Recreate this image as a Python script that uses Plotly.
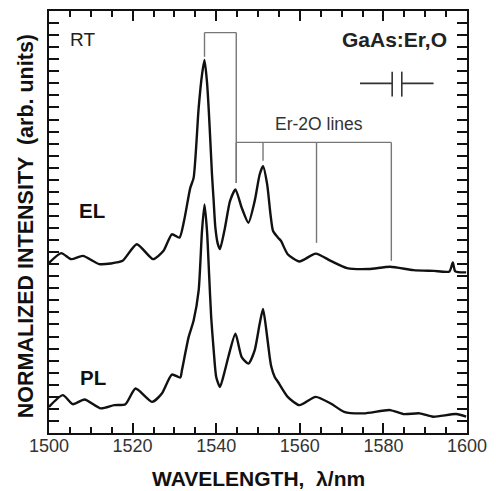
import plotly.graph_objects as go

# ---- data (wavelength in nm, normalized intensity in arb. units) ----
el_wl = [1500, 1502.9, 1505.3, 1508.1, 1512, 1514.8, 1517.6, 1521, 1524.9, 1527.4,
         1529.4, 1531.2, 1532.3, 1533.8, 1534.6, 1535.8, 1536.6, 1537.2, 1537.8, 1538.2,
         1538.6, 1539.0, 1539.4, 1539.8, 1540.4, 1540.9, 1542.1, 1543.3, 1544.6, 1546.1,
         1547.7, 1549.2, 1550.4, 1551.2, 1552.2, 1553.0, 1553.6, 1554.8, 1555.5, 1557.1,
         1559.9, 1563.8, 1567.4, 1571.3, 1576.5, 1581.6, 1587.2, 1592.0, 1595.8, 1596.6,
         1597.2, 1599.8]
el_int = [14.1, 14.92, 14.42, 14.69, 14.01, 14.06, 14.28, 15.66, 14.42, 15.11,
          16.48, 16.2, 17.58, 20.33, 21.16, 26.94, 29.7, 30.93, 29.1, 26.9,
          24.19, 21.4, 19.2, 17.03, 15.66, 15.25, 17.03, 19.23, 20.2, 18.68,
          17.44, 19.23, 21.44, 22.12, 20.6, 18.1, 16.76, 16.2, 15.93, 14.83,
          14.22, 14.88, 14.28, 13.68, 13.6, 13.79, 13.51, 13.45, 13.4, 14.14,
          13.4, 13.32]

pl_wl = [1500, 1503.3, 1505.7, 1508.5, 1512.4, 1515.6, 1518.3, 1520.7, 1524.7, 1527,
         1529.4, 1531.4, 1531.8, 1533.4, 1534.6, 1535.8, 1536.6, 1537.2, 1537.8, 1538.3,
         1538.8, 1539.4, 1540.0, 1540.9, 1542.1, 1542.9, 1544.6, 1546.1, 1547.7, 1549.2,
         1550.4, 1551.2, 1552.0, 1552.8, 1553.2, 1554.0, 1554.8, 1557.1, 1559.9, 1563.8,
         1567.4, 1570.6, 1575.3, 1581.6, 1584.8, 1588.7, 1591.9, 1597.4, 1599.8]
pl_int = [2.17, 3.14, 2.39, 2.78, 2.04, 2.31, 2.39, 3.69, 2.58, 3.28,
          4.85, 4.6, 5.2, 7.95, 9.33, 11.8, 16.76, 18.96, 16.76, 13.18,
          9.6, 6.85, 4.65, 3.82, 5.2, 6.3, 8.23, 6.3, 5.75, 6.85,
          9.06, 10.29, 8.5, 6.3, 5.47, 4.65, 4.23, 3.0, 2.31, 3.0,
          2.45, 1.76, 1.63, 1.9, 1.57, 1.63, 1.35, 1.57, 1.35]

x_tick_vals = [1500, 1520, 1540, 1560, 1580, 1600]
x_tick_text = ["1500", "1520", "1540", "1560", "1580", "1600"]

# Er-related line markers (wavelength, lower end of each drop line)
top_bracket_wl = [1537.2, 1544.8]
top_bracket_y = 33.21
top_bracket_ends = [31.2, 20.74]
er2o_wl = [1544.8, 1551.2, 1564.0, 1581.9]
er2o_y = 24.1
er2o_ends = [20.74, 22.59, 15.77, 14.28]

# resolution symbol
cap_left = [1574.4, 1582.1]
cap_right = [1584.4, 1592.0]
cap_y = 29.0
cap_plate = [27.9, 29.97]

FONT = "Liberation Sans, Arial, sans-serif"
GRAY = "#777777"

fig = go.Figure()
fig.add_trace(go.Scatter(x=el_wl, y=el_int, mode="lines",
                         line=dict(color="#111111", width=2.4, shape="spline", smoothing=0.6),
                         showlegend=False, hoverinfo="skip"))
fig.add_trace(go.Scatter(x=pl_wl, y=pl_int, mode="lines",
                         line=dict(color="#111111", width=2.4, shape="spline", smoothing=0.6),
                         showlegend=False, hoverinfo="skip"))
# invisible trace to carry the top (mirror) axis
fig.add_trace(go.Scatter(x=[pl_wl[0]], y=[pl_int[0]], xaxis="x2", mode="markers",
                         marker=dict(opacity=0), showlegend=False, hoverinfo="skip"))

shapes = []
def seg(x0, y0, x1, y1, color=GRAY, width=1.4):
    shapes.append(dict(type="line", xref="x", yref="y", x0=x0, y0=y0, x1=x1, y1=y1,
                       line=dict(color=color, width=width)))

# top bracket
seg(top_bracket_wl[0], top_bracket_y, top_bracket_wl[1], top_bracket_y)
for w, e in zip(top_bracket_wl, top_bracket_ends):
    seg(w, top_bracket_y, w, e)
# Er-2O bracket
seg(er2o_wl[0], er2o_y, er2o_wl[-1], er2o_y)
for w, e in zip(er2o_wl, er2o_ends):
    seg(w, er2o_y, w, e)
# capacitor-like resolution symbol
seg(cap_left[0], cap_y, cap_left[1], cap_y, "#333333", 1.6)
seg(cap_right[0], cap_y, cap_right[1], cap_y, "#333333", 1.6)
seg(cap_left[1], cap_plate[0], cap_left[1], cap_plate[1], "#333333", 1.6)
seg(cap_right[0], cap_plate[0], cap_right[0], cap_plate[1], "#333333", 1.6)

annotations = [
    dict(x=1508.1, y=32.6, text="RT", font=dict(size=19, family=FONT, color="#222")),
    dict(x=1582.7, y=32.6, text="<b>GaAs:Er,O</b>", font=dict(size=21, family=FONT, color="#222")),
    dict(x=1564.6, y=25.6, text="Er-2O lines", font=dict(size=17.5, family=FONT, color="#333")),
    dict(x=1510.4, y=18.47, text="<b>EL</b>", font=dict(size=20.5, family=FONT, color="#111")),
    dict(x=1510.6, y=4.6, text="<b>PL</b>", font=dict(size=20.5, family=FONT, color="#111")),
    dict(xref="paper", yref="paper", x=0.5, y=0, yshift=-45, text="<b>WAVELENGTH,  λ/nm</b>",
         font=dict(size=21, family=FONT, color="#111")),
    dict(xref="paper", yref="paper", x=0, y=0.49, xshift=-23, textangle=-90,
         text="<b>NORMALIZED INTENSITY  (arb. units)</b>",
         font=dict(size=21.5, family=FONT, color="#111")),
]
for a in annotations:
    a.setdefault("xref", "x")
    a.setdefault("yref", "y")
    a["showarrow"] = False
    a["xanchor"] = "center"
    a["yanchor"] = "middle"

tick_common = dict(ticks="inside", ticklen=10, tickwidth=1.5, tickcolor="#111",
                   showgrid=False, zeroline=False)

fig.update_layout(
    width=496, height=491,
    margin=dict(l=49, r=25, t=9, b=58),
    plot_bgcolor="white", paper_bgcolor="white",
    shapes=shapes, annotations=annotations,
    xaxis=dict(range=[1500, 1600], tickmode="array", tickvals=x_tick_vals, ticktext=x_tick_text,
               minor=dict(dtick=5, tick0=1500, ticks="inside", ticklen=6, tickwidth=1.5, tickcolor="#111"),
               showline=True, linecolor="#111", linewidth=1.5, mirror=True,
               ticklabelstandoff=-4,
               tickfont=dict(size=18, family=FONT, color="#333"), **tick_common),
    xaxis2=dict(range=[1500, 1600], overlaying="x", side="top", tickmode="array",
                tickvals=x_tick_vals, showticklabels=False,
                minor=dict(dtick=5, tick0=1500, ticks="inside", ticklen=6, tickwidth=1.5, tickcolor="#111"),
                showline=False, **tick_common),
    yaxis=dict(range=[0, 35], tick0=1, dtick=4, showticklabels=False,
               minor=dict(dtick=1, tick0=0, ticks="inside", ticklen=6, tickwidth=1.5, tickcolor="#111"),
               showline=True, linecolor="#111", linewidth=1.5, mirror="allticks", **tick_common),
)

fig.write_html("out.html", config={"displayModeBar": False},
               post_script="document.body.style.margin='0';document.body.style.padding='0';")
